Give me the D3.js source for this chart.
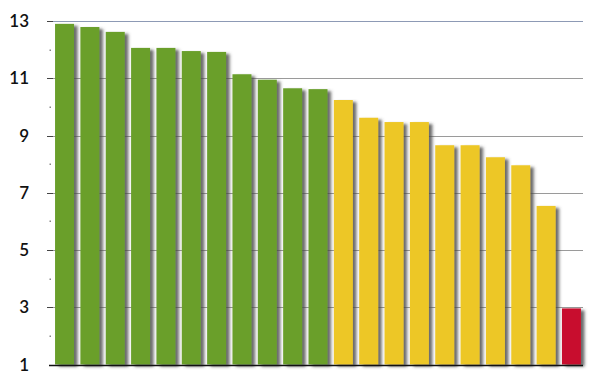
<!DOCTYPE html>
<html><head><meta charset="utf-8">
<script src="https://cdn.jsdelivr.net/npm/d3@7"></script>
<style>body{margin:0;background:#fff}svg{display:block}</style>
</head><body>
<svg id="chart" width="600" height="392"></svg>
<script>
const categories = ["C1","C2","C3","C4","C5","C6","C7","C8","C9","C10","C11","C12","C13","C14","C15","C16","C17","C18","C19","C20","C21"];
const values = [12.9,12.79,12.62,12.06,12.06,11.95,11.92,11.14,10.95,10.65,10.62,10.24,9.62,9.47,9.47,8.66,8.66,8.24,7.96,6.54,2.96];
const groups = ["high","high","high","high","high","high","high","high","high","high","high","mid","mid","mid","mid","mid","mid","mid","mid","mid","low"];
const groupColors = {high:"#6a9f2c", mid:"#edc727", low:"#c8102e"};
const majorTicks = [1,3,5,7,9,11,13];
const minorTicks = [2,4,6,8,10,12];

const svg = d3.select("#chart");
const defs = svg.append("defs");
const f = defs.append("filter").attr("id","sh").attr("x","-20%").attr("y","-5%").attr("width","160%").attr("height","115%");
f.append("feDropShadow").attr("dx",3.5).attr("dy",2).attr("stdDeviation",1.4).attr("flood-color","#444").attr("flood-opacity",0.8);

const x = d3.scaleBand().domain(categories).range([52,584]).paddingInner(0.25).paddingOuter(0.12);
const y = d3.scaleLinear().domain([1,13]).range([364.5,21]);

// gridlines
svg.append("g").selectAll("line").data(majorTicks.filter(d=>d>1)).join("line")
  .attr("x1",48).attr("x2",583).attr("y1",d=>Math.round(y(d))+0.5).attr("y2",d=>Math.round(y(d))+0.5)
  .attr("stroke",d=>d===13?"#8d9ab5":"#9a9a9a").attr("stroke-width",1);

// minor dots
svg.append("g").selectAll("rect").data(minorTicks).join("rect")
  .attr("x",49.5).attr("y",d=>Math.round(y(d))-0.5).attr("width",1.5).attr("height",1.5).attr("fill","#888");

// major tick marks
svg.append("g").selectAll("line").data(majorTicks.filter(d=>d>1)).join("line")
  .attr("x1",47).attr("x2",53).attr("y1",d=>Math.round(y(d))+0.5).attr("y2",d=>Math.round(y(d))+0.5)
  .attr("stroke","#444").attr("stroke-width",1);

// bars
svg.append("g").selectAll("rect").data(values).join("rect")
  .attr("x",(d,i)=>x(categories[i]))
  .attr("y",d=>y(d))
  .attr("width",x.bandwidth())
  .attr("height",d=>y(1)-y(d))
  .attr("fill",(d,i)=>groupColors[groups[i]])
  .attr("filter","url(#sh)");

// baseline
svg.append("line").attr("x1",49).attr("x2",583).attr("y1",365.5).attr("y2",365.5)
  .attr("stroke","#111").attr("stroke-width",1.5);

// labels
svg.append("g").selectAll("text").data(majorTicks).join("text")
  .attr("x",29).attr("y",d=>y(d)).attr("dy","0.36em")
  .attr("text-anchor","end")
  .attr("font-family","Lato, 'Open Sans', sans-serif").attr("font-size",17)
  .attr("font-weight",600)
  .attr("fill","#111")
  .text(d=>d);
</script>
</body></html>
